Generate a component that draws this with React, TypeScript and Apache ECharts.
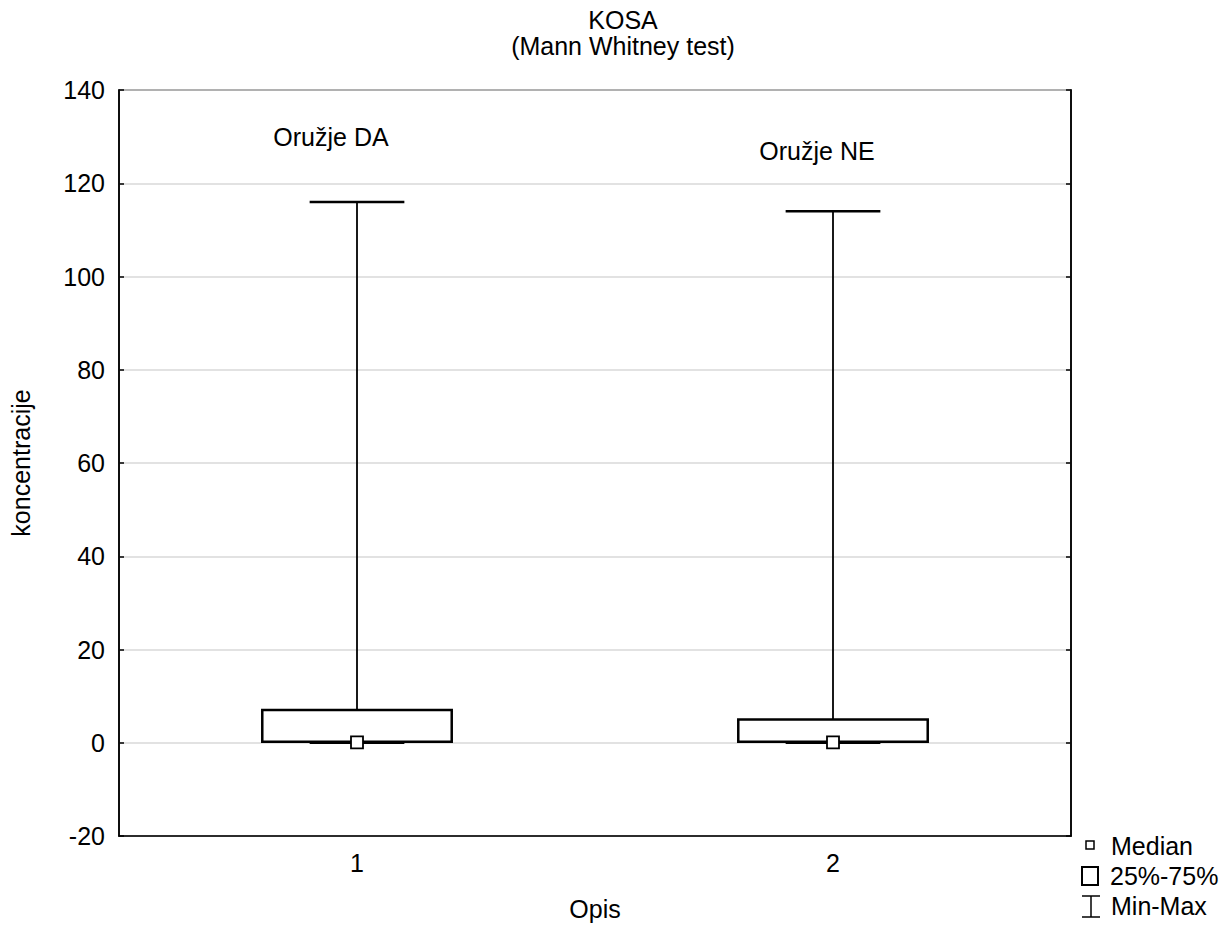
import React, { useEffect, useRef } from "react";
import * as echarts from "echarts";

const categories = ["1", "2"];
// [min, q1, median, q3, max]
const boxStats = [
  [0, 0.2, 0.1, 7, 116],
  [0, 0.2, 0.1, 5, 114],
];
const groupLabels = ["Oružje DA", "Oružje NE"];
const groupLabelY = [130, 127];
const yTicks = { min: -20, max: 140, interval: 20 };

const FONT = "'Liberation Sans', Arial, sans-serif";

export default function App() {
  const ref = useRef<HTMLDivElement>(null);
  useEffect(() => {
    document.body.style.margin = "0";
    const chart = echarts.init(ref.current!, null, { renderer: "svg" });
    const boxData = boxStats.map((s, i) => [i, ...s]);
    const labelOffsets = [[-26, 0], [-16, 0]];
    const labelData = groupLabels.map((n, i) => ({
      value: [i, groupLabelY[i]],
      name: n,
      label: { offset: labelOffsets[i] },
    }));
    chart.setOption({
      animation: false,
      backgroundColor: "#fff",
      textStyle: { fontFamily: FONT },
      title: {
        text: "KOSA\n(Mann Whitney test)",
        left: 618,
        top: 2,
        textAlign: "center",
        textStyle: { fontFamily: FONT, fontSize: 25, fontWeight: "normal", color: "#000", lineHeight: 26 },
      },
      grid: { left: 111, right: 158, top: 90, bottom: 86, show: true, borderColor: "#000", borderWidth: 1.5 },
      xAxis: {
        type: "category",
        data: categories,
        boundaryGap: true,
        name: "Opis",
        nameLocation: "middle",
        nameGap: 60,
        nameTextStyle: { fontFamily: FONT, fontSize: 25, color: "#000" },
        axisLine: { onZero: false, lineStyle: { color: "#000", width: 1.5 } },
        axisTick: { inside: true, alignWithLabel: true, length: 5, lineStyle: { color: "#000", width: 1.5 } },
        axisLabel: { fontFamily: FONT, fontSize: 25, color: "#000", margin: 14 },
        splitLine: { show: false },
      },
      yAxis: [
        {
          type: "value",
          min: yTicks.min,
          max: yTicks.max,
          interval: yTicks.interval,
          name: "koncentracije",
          nameLocation: "middle",
          nameGap: 86,
          nameRotate: 90,
          nameTextStyle: { fontFamily: FONT, fontSize: 25, color: "#000" },
          axisLine: { show: true, onZero: false, lineStyle: { color: "#000", width: 1.5 } },
          axisTick: { show: true, inside: true, length: 5, lineStyle: { color: "#000", width: 1.5 } },
          axisLabel: { fontFamily: FONT, fontSize: 25, color: "#000", margin: 14 },
          splitLine: { show: true, lineStyle: { color: "#d9d9d9", width: 1.5 } },
        },
        {
          type: "value",
          position: "right",
          min: yTicks.min,
          max: yTicks.max,
          interval: yTicks.interval,
          axisLine: { show: true, onZero: false, lineStyle: { color: "#000", width: 1.5 } },
          axisTick: { show: true, inside: true, length: 5, lineStyle: { color: "#000", width: 1.5 } },
          axisLabel: { show: false },
          splitLine: { show: false },
        },
      ],
      series: [
        {
          type: "custom",
          data: boxData,
          encode: { x: 0, y: [1, 2, 3, 4, 5] },
          renderItem: (params: any, api: any) => {
            const idx = api.value(0);
            const mn = api.coord([idx, api.value(1)]);
            const q1 = api.coord([idx, api.value(2)]);
            const md = api.coord([idx, api.value(3)]);
            const q3 = api.coord([idx, api.value(4)]);
            const mx = api.coord([idx, api.value(5)]);
            const band = api.size([1, 0])[0];
            const bw = band * 0.398;
            const cw = bw * 0.5;
            const cx = mx[0];
            const ls = { stroke: "#000", lineWidth: 1.8, fill: null };
            const sq = 12;
            return {
              type: "group",
              children: [
                { type: "line", shape: { x1: cx, y1: q3[1], x2: cx, y2: mx[1] }, style: ls },
                { type: "line", shape: { x1: cx - cw / 2, y1: mx[1], x2: cx + cw / 2, y2: mx[1] }, style: { ...ls, lineWidth: 2.5 } },
                { type: "line", shape: { x1: cx, y1: q1[1], x2: cx, y2: mn[1] }, style: ls },
                { type: "line", shape: { x1: cx - cw / 2, y1: mn[1], x2: cx + cw / 2, y2: mn[1] }, style: { ...ls, lineWidth: 2.5 } },
                {
                  type: "rect",
                  shape: { x: cx - bw / 2, y: q3[1], width: bw, height: q1[1] - q3[1] },
                  style: { stroke: "#000", lineWidth: 2.5, fill: "#fff" },
                },
                {
                  type: "rect",
                  shape: { x: cx - sq / 2, y: md[1] - sq / 2, width: sq, height: sq },
                  style: { stroke: "#000", lineWidth: 1.8, fill: "#fff" },
                },
              ],
            };
          },
          z: 3,
        },
        {
          type: "scatter",
          data: labelData,
          symbolSize: 0,
          silent: true,
          itemStyle: { opacity: 1 },
          label: {
            show: true,
            position: "inside",
            formatter: (p: any) => p.name,
            fontFamily: FONT,
            fontSize: 25,
            color: "#000",
            opacity: 1,
          },
        },
      ],
      graphic: [
        { type: "rect", shape: { x: 1086, y: 841, width: 8, height: 8 }, style: { stroke: "#000", lineWidth: 1.5, fill: "#fff" } },
        { type: "text", x: 1111, y: 846, style: { text: "Median", font: `25px ${FONT}`, fill: "#000", verticalAlign: "middle" } },
        { type: "rect", shape: { x: 1082, y: 867, width: 16, height: 18 }, style: { stroke: "#000", lineWidth: 2, fill: "#fff" } },
        { type: "text", x: 1110, y: 876, style: { text: "25%-75%", font: `25px ${FONT}`, fill: "#000", verticalAlign: "middle" } },
        { type: "line", shape: { x1: 1082, y1: 896, x2: 1100, y2: 896 }, style: { stroke: "#000", lineWidth: 1.5 } },
        { type: "line", shape: { x1: 1091, y1: 896, x2: 1091, y2: 917 }, style: { stroke: "#000", lineWidth: 1.5 } },
        { type: "line", shape: { x1: 1082, y1: 917, x2: 1100, y2: 917 }, style: { stroke: "#000", lineWidth: 1.5 } },
        { type: "text", x: 1111, y: 906, style: { text: "Min-Max", font: `25px ${FONT}`, fill: "#000", verticalAlign: "middle" } },
      ],
    });
    return () => chart.dispose();
  }, []);
  return <div ref={ref} style={{ width: 1229, height: 926 }} />;
}
